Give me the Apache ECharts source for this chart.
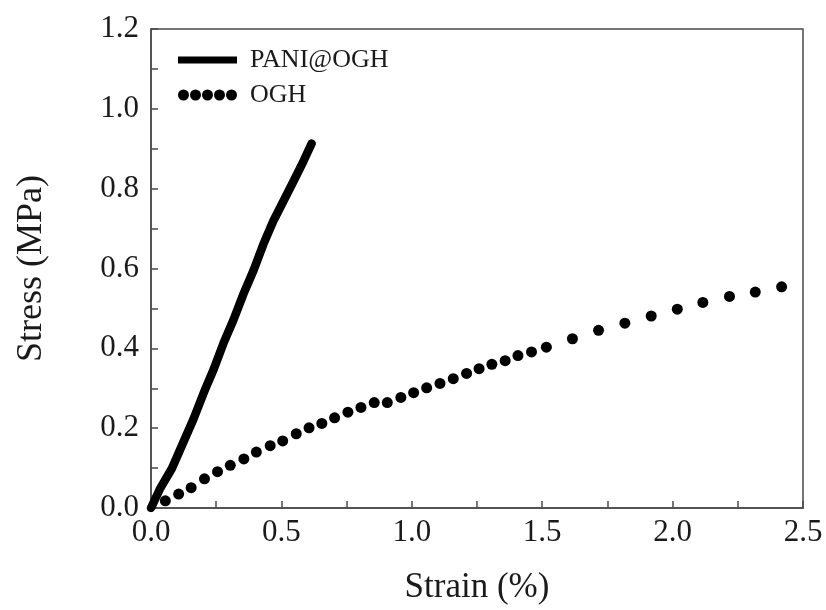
<!DOCTYPE html>
<html>
<head>
<meta charset="utf-8">
<script src="https://cdn.jsdelivr.net/npm/echarts@6/dist/echarts.min.js"></script>
<style>
	html, body { margin: 0; padding: 0; background: #fff; }
	#stressChart { width: 826px; height: 610px; }
</style>
</head>
<body>
<div id="stressChart"></div>
<script>
	// PANI@OGH curve (strain %, stress MPa)
	var paniStrain = [ 0, 0.036, 0.080, 0.119, 0.163, 0.208, 0.240, 0.278, 0.316, 0.355, 0.393, 0.431, 0.469, 0.508, 0.546, 0.584, 0.616 ];
	var paniStress = [ 0, 0.050, 0.099, 0.157, 0.223, 0.298, 0.347, 0.413, 0.471, 0.537, 0.595, 0.661, 0.719, 0.769, 0.818, 0.868, 0.913 ];

	// OGH points
	var oghStrain = [ 0.055, 0.106, 0.154, 0.205, 0.255, 0.304, 0.356, 0.404, 0.457, 0.505, 0.557, 0.606, 0.655, 0.704, 0.755, 0.805, 0.856, 0.906, 0.958, 1.007,
		1.057, 1.108, 1.159, 1.210, 1.258, 1.307, 1.358, 1.407, 1.459, 1.516, 1.616, 1.716, 1.817, 1.918, 2.018, 2.116, 2.218, 2.317, 2.418 ];
	var oghStress = [ 0.018, 0.035, 0.051, 0.073, 0.091, 0.107, 0.123, 0.140, 0.156, 0.168, 0.186, 0.201, 0.212, 0.226, 0.240, 0.252, 0.264, 0.264, 0.277, 0.289,
		0.301, 0.312, 0.324, 0.337, 0.349, 0.360, 0.369, 0.382, 0.391, 0.403, 0.424, 0.445, 0.463, 0.481, 0.498, 0.515, 0.530, 0.541, 0.554 ];

	var seriesNames = [ 'PANI@OGH', 'OGH' ];

	function pairs(xs, ys) {
		var out = [];
		for (var i = 0; i < xs.length; i++) {
			out.push([ xs[i], ys[i] ]);
		}
		return out;
	}

	var font = 'Liberation Serif';
	var ink = '#1a1a1a';
	var frame = '#4a4a4a';

	// five dots for the OGH legend key
	var dotsIcon = 'path://M0,5.5a5.5,5.5 0 1,0 11,0a5.5,5.5 0 1,0 -11,0Z'
		+ 'M12,5.5a5.5,5.5 0 1,0 11,0a5.5,5.5 0 1,0 -11,0Z'
		+ 'M24,5.5a5.5,5.5 0 1,0 11,0a5.5,5.5 0 1,0 -11,0Z'
		+ 'M36,5.5a5.5,5.5 0 1,0 11,0a5.5,5.5 0 1,0 -11,0Z'
		+ 'M48,5.5a5.5,5.5 0 1,0 11,0a5.5,5.5 0 1,0 -11,0Z';

	var chart = echarts.init(document.getElementById('stressChart'));
	var option = {
		animation : false,
		backgroundColor : '#fff',
		textStyle : { fontFamily : font, color : ink },
		grid : {
			left : 151,
			right : 23,
			top : 29,
			bottom : 97,
			show : true,
			borderColor : frame,
			borderWidth : 1.5,
			containLabel : false
		},
		legend : [ {
			data : [ { name : seriesNames[0], icon : 'rect', itemStyle : { color : '#000', opacity : 1 } } ],
			left : 173,
			top : 42,
			itemWidth : 59,
			itemHeight : 7,
			textStyle : { fontFamily : font, fontSize : 26, color : ink, padding : [ 0, 0, 0, 8 ] }
		}, {
			data : [ { name : seriesNames[1], icon : dotsIcon, itemStyle : { color : '#000', opacity : 1 } } ],
			left : 173,
			top : 77,
			itemWidth : 59,
			itemHeight : 11,
			textStyle : { fontFamily : font, fontSize : 26, color : ink, padding : [ 0, 0, 0, 8 ] }
		} ],
		xAxis : {
			type : 'value',
			min : 0,
			max : 2.5,
			interval : 0.5,
			name : 'Strain (%)',
			nameLocation : 'middle',
			nameGap : 62,
			nameTextStyle : { fontFamily : font, fontSize : 35, color : ink },
			axisLine : { show : true, lineStyle : { color : frame, width : 1.5 } },
			axisTick : { show : true, inside : true, length : 7, lineStyle : { color : frame, width : 1.5 } },
			minorTick : { show : true, splitNumber : 2, length : 7, lineStyle : { color : frame, width : 1.5 } },
			splitLine : { show : false },
			axisLabel : {
				fontFamily : font,
				fontSize : 31,
				color : ink,
				margin : 9,
				formatter : function(v) { return v.toFixed(1); }
			}
		},
		yAxis : {
			type : 'value',
			min : 0,
			max : 1.2,
			interval : 0.2,
			name : 'Stress (MPa)',
			nameLocation : 'middle',
			nameGap : 101,
			nameTextStyle : { fontFamily : font, fontSize : 36, color : ink },
			axisLine : { show : true, lineStyle : { color : frame, width : 1.5 } },
			axisTick : { show : true, inside : true, length : 7, lineStyle : { color : frame, width : 1.5 } },
			minorTick : { show : true, splitNumber : 2, length : 7, lineStyle : { color : frame, width : 1.5 } },
			splitLine : { show : false },
			axisLabel : {
				fontFamily : font,
				fontSize : 31,
				color : ink,
				margin : 12,
				formatter : function(v) { return v.toFixed(1); }
			}
		},
		series : [ {
			type : 'line',
			name : seriesNames[0],
			data : pairs(paniStrain, paniStress),
			showSymbol : false,
			color : '#000',
			lineStyle : { width : 8.5, color : '#000', cap : 'round', join : 'round' }
		}, {
			type : 'scatter',
			name : seriesNames[1],
			data : pairs(oghStrain, oghStress),
			symbol : 'circle',
			symbolSize : 11,
			color : '#000',
			itemStyle : { color : '#000', opacity : 1 }
		} ]
	};
	chart.setOption(option);

	window.onresize = function() {
		chart.resize();
	}
</script>
</body>
</html>
